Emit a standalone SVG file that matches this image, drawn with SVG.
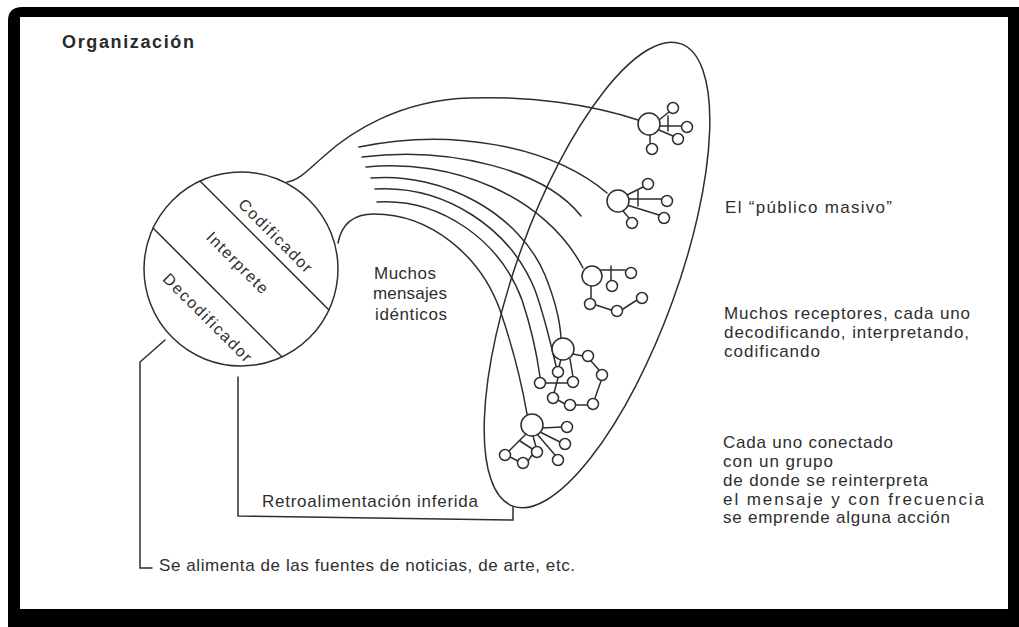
<svg xmlns="http://www.w3.org/2000/svg" width="1019" height="627" viewBox="0 0 1019 627">
<style>
.ln{fill:none;stroke:#2e2e2e;stroke-width:1.5;stroke-linecap:round}
.nd{fill:#fff;stroke:#2e2e2e;stroke-width:1.5}
.tx{font-family:"Liberation Sans",Arial,sans-serif;font-size:17px;fill:#2e2e2e}
.tc{font-family:"Liberation Sans",Arial,sans-serif;font-size:16px;fill:#2e2e2e}
.ti{font-family:"Liberation Sans",Arial,sans-serif;font-size:18px;font-weight:bold;fill:#2a2a2a}
</style>
<rect width="1019" height="627" fill="#fff"/>
<g id="frame">
<path d="M8,21 Q8,7 22,7 H1019 V627 H8 Z" fill="#000"/>
<rect x="20" y="17" width="988" height="592" fill="#fff"/>
</g>
<g id="title"><text class="ti" x="62" y="48" textLength="132">Organización</text></g>

<g id="connectors">
<path class="ln" d="M287,182 C300,180 310,168 323,157 C350,132 400,100 470,98 C530,96 590,104 638,120"/>
<path class="ln" d="M338,243 C342,222 356,214 374,214 C430,214 480,255 500,310 C512,345 522,385 527,414"/>
<path class="ln" d="M359,147 C450,128 550,145 607,193"/>
<path class="ln" d="M362,157 C450,146 545,170 581,216"/>
<path class="ln" d="M366,167 C450,158 545,195 583,268"/>
<path class="ln" d="M371,178 C445,172 520,215 545,275 C555,300 560,320 561,338"/>
<path class="ln" d="M375,189 C445,185 510,228 535,290 C545,318 551,345 556,366"/>
<path class="ln" d="M377,202 C440,198 500,240 522,300 C532,330 537,355 540,377"/>
<path class="ln" d="M238,377 V516 L513,520 V507"/>
<path class="ln" d="M165,340 L140,362 V568 H152"/>
</g>

<g id="source">
<circle class="nd" cx="241" cy="269" r="97"/>
<line class="ln" x1="200" y1="181" x2="329" y2="310"/>
<line class="ln" x1="153" y1="228" x2="282" y2="357"/>
<text class="tc" text-anchor="middle" transform="translate(275,236) rotate(45)" x="0" y="5" textLength="97">Codificador</text>
<text class="tc" text-anchor="middle" transform="translate(237,263) rotate(45)" x="0" y="5" textLength="80">Interprete</text>
<text class="tc" text-anchor="middle" transform="translate(207,318) rotate(45)" x="0" y="5" textLength="118">Decodificador</text>
</g>

<g id="audience">
<ellipse class="ln" cx="597" cy="275" rx="80" ry="246" transform="rotate(20 597 275)"/>
</g>

<g id="receiver1">
<path class="ln" d="M659,120 L669,112 M660,126 H681 M659,130 L673,136 M650,135 V143 M668,116 V131"/>
<circle class="nd" cx="649" cy="124" r="11"/>
<circle class="nd" cx="673" cy="108" r="5.5"/>
<circle class="nd" cx="687" cy="127" r="5.5"/>
<circle class="nd" cx="678" cy="139" r="5.5"/>
<circle class="nd" cx="652" cy="149" r="5.5"/>
</g>
<g id="receiver2">
<path class="ln" d="M627,195 L643,187 M628,199 H661 M627,205 L659,215 M623,211 L629,218 M638,191 V206"/>
<circle class="nd" cx="618" cy="201" r="11"/>
<circle class="nd" cx="648" cy="184" r="5.5"/>
<circle class="nd" cx="667" cy="201" r="5.5"/>
<circle class="nd" cx="664" cy="218" r="5.5"/>
<circle class="nd" cx="632" cy="223" r="5.5"/>
</g>
<g id="receiver3">
<path class="ln" d="M600,270 H625 M611,266 V281 M591,286 V298 M596,305 L611,310 M623,309 L637,300"/>
<circle class="nd" cx="592" cy="276" r="10"/>
<circle class="nd" cx="631" cy="273" r="5.5"/>
<circle class="nd" cx="612" cy="286" r="5.5"/>
<circle class="nd" cx="590" cy="304" r="5.5"/>
<circle class="nd" cx="617" cy="311" r="5.5"/>
<circle class="nd" cx="642" cy="298" r="5.5"/>
</g>
<g id="receiver4">
<path class="ln" d="M573,354 L583,356 M591,361 L599,370 M601,381 L595,398 M588,405 H576 M565,404 L558,400 M561,359 L559,367 M546,383 H568 M558,378 L554,393 M570,359 L573,377"/>
<circle class="nd" cx="563" cy="349" r="11"/>
<circle class="nd" cx="588" cy="356" r="5.5"/>
<circle class="nd" cx="602" cy="375" r="5.5"/>
<circle class="nd" cx="593" cy="404" r="5.5"/>
<circle class="nd" cx="570" cy="405" r="5.5"/>
<circle class="nd" cx="553" cy="398" r="5.5"/>
<circle class="nd" cx="540" cy="383" r="5.5"/>
<circle class="nd" cx="558" cy="372" r="5.5"/>
<circle class="nd" cx="573" cy="382" r="5.5"/>
</g>
<g id="receiver5">
<path class="ln" d="M542,428 L562,427 M540,432 L560,442 M537,434 L555,455 M533,436 L536,447 M526,434 L509,451 M510,457 L518,461 M528,461 L532,455 M520,441 L537,452"/>
<circle class="nd" cx="532" cy="425" r="11"/>
<circle class="nd" cx="567" cy="427" r="5.5"/>
<circle class="nd" cx="565" cy="444" r="5.5"/>
<circle class="nd" cx="558" cy="460" r="5.5"/>
<circle class="nd" cx="537" cy="452" r="5.5"/>
<circle class="nd" cx="523" cy="463" r="5.5"/>
<circle class="nd" cx="505" cy="455" r="5.5"/>
</g>

<g id="labels">
<text class="tx" x="374" y="279" textLength="62">Muchos</text>
<text class="tx" x="373" y="299" textLength="74">mensajes</text>
<text class="tx" x="375" y="320" textLength="72">idénticos</text>
<text class="tx" x="725" y="213" textLength="167">El “público masivo”</text>
<text class="tx" x="724" y="319" textLength="246">Muchos receptores, cada uno</text>
<text class="tx" x="724" y="338" textLength="245">decodificando, interpretando,</text>
<text class="tx" x="724" y="357" textLength="96">codificando</text>
<text class="tx" x="723" y="448" textLength="170">Cada uno conectado</text>
<text class="tx" x="723" y="467" textLength="110">con un grupo</text>
<text class="tx" x="723" y="486" textLength="205">de donde se reinterpreta</text>
<text class="tx" x="723" y="505" textLength="261">el mensaje y con frecuencia</text>
<text class="tx" x="723" y="523" textLength="227">se emprende alguna acción</text>
<text class="tx" x="262" y="507" textLength="216">Retroalimentación inferida</text>
<text class="tx" x="159" y="571" textLength="416">Se alimenta de las fuentes de noticias, de arte, etc.</text>
</g>
</svg>
